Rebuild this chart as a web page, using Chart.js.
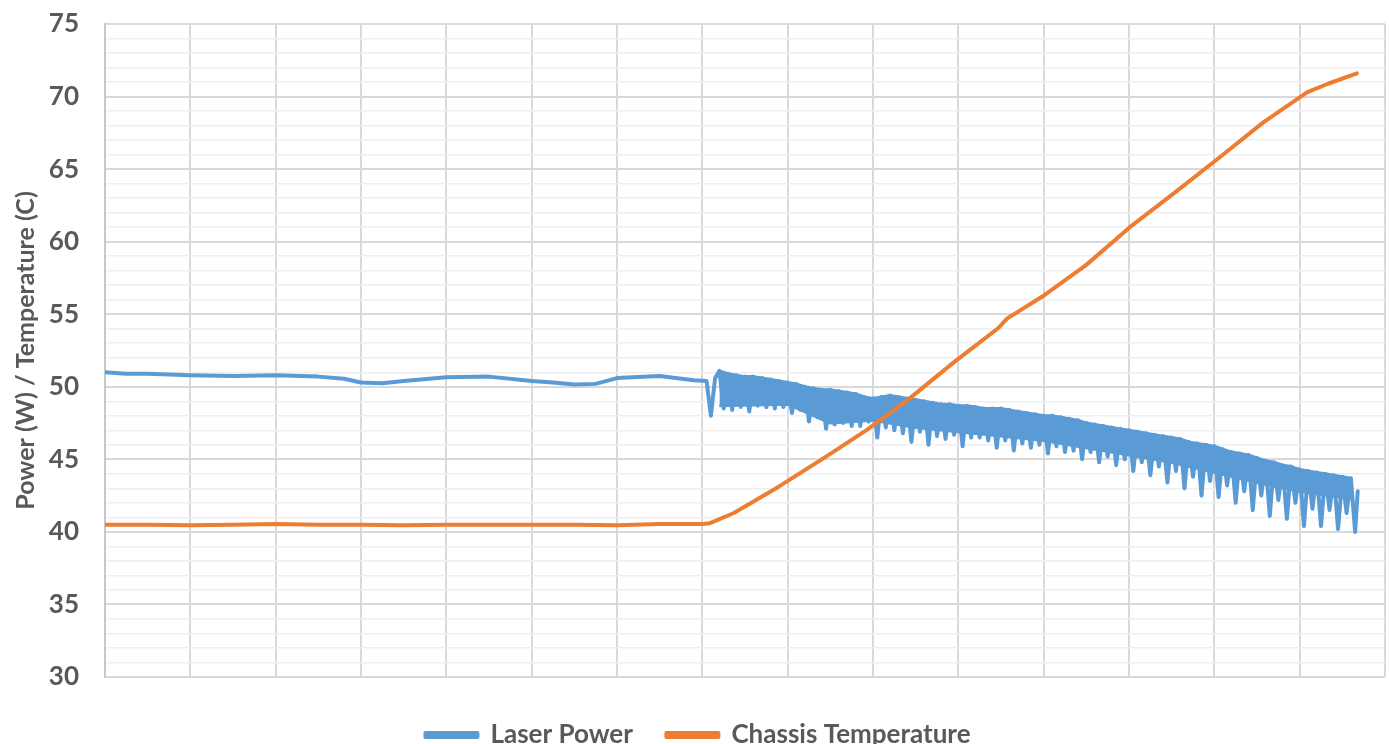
<!DOCTYPE html>
<html>
<head>
<meta charset="utf-8">
<script src="https://cdn.jsdelivr.net/npm/chart.js@4/dist/chart.umd.min.js"></script>
<style>
  html, body { margin: 0; padding: 0; background: #fff; overflow: hidden; }
  #wrap { position: relative; width: 1389px; height: 758px; }
</style>
</head>
<body>
<div id="wrap"><canvas id="myChart"></canvas></div>
<script>
// Laser power before the oscillation starts
const steadyX = [0, 0.25, 0.5, 0.75, 1.0, 1.5, 2.0, 2.5, 2.8, 3.0, 3.25, 3.5, 4.0, 4.5, 5.0, 5.25, 5.5, 5.75, 6.0, 6.5, 6.9, 7.05, 7.1, 7.15];
const steadyPower = [51.0, 50.9, 50.9, 50.85, 50.8, 50.75, 50.8, 50.7, 50.55, 50.3, 50.25, 50.4, 50.65, 50.7, 50.4, 50.3, 50.15, 50.2, 50.6, 50.75, 50.45, 50.4, 48.0, 50.6];

// oscillating part: peaks
const bandX = [7.2, 7.3, 7.4, 7.5, 7.6, 7.7, 7.8, 7.9,
  8.0, 8.1, 8.2, 8.3, 8.4, 8.5, 8.6, 8.7, 8.8, 8.9,
  9.0, 9.1, 9.2, 9.3, 9.4, 9.5, 9.6, 9.7, 9.8, 9.9,
  10.0, 10.1, 10.2, 10.3, 10.4, 10.5, 10.6, 10.7, 10.8, 10.9,
  11.0, 11.1, 11.2, 11.3, 11.4, 11.5, 11.6, 11.7, 11.8, 11.9,
  12.0, 12.1, 12.2, 12.3, 12.4, 12.5, 12.6, 12.7, 12.8, 12.9,
  13.0, 13.1, 13.2, 13.3, 13.4, 13.5, 13.6, 13.7, 13.8, 13.9,
  14.0, 14.1, 14.2, 14.3, 14.4, 14.5, 14.6];
const powerHigh = [51.1, 50.9, 50.8, 50.7, 50.7, 50.6, 50.5, 50.4,
  50.3, 50.2, 50.0, 49.9, 49.8, 49.8, 49.7, 49.6, 49.5, 49.3,
  49.2, 49.3, 49.4, 49.3, 49.2, 49.1, 49.0, 48.9, 48.8, 48.8,
  48.7, 48.7, 48.6, 48.5, 48.5, 48.5, 48.4, 48.3, 48.2, 48.1,
  48.0, 48.0, 47.9, 47.8, 47.7, 47.5, 47.4, 47.3, 47.2, 47.1,
  47.0, 46.9, 46.8, 46.7, 46.6, 46.5, 46.4, 46.2, 46.1, 46.0,
  45.9, 45.7, 45.5, 45.4, 45.3, 45.1, 44.9, 44.8, 44.6, 44.5,
  44.3, 44.2, 44.1, 44.0, 43.9, 43.8, 43.7];

// oscillating part: dips between the peaks
const dipX = [7.25, 7.35, 7.45, 7.55, 7.65, 7.75, 7.85, 7.95,
  8.05, 8.15, 8.25, 8.35, 8.45, 8.55, 8.65, 8.75, 8.85, 8.95,
  9.05, 9.15, 9.25, 9.35, 9.45, 9.55, 9.65, 9.75, 9.85, 9.95,
  10.05, 10.15, 10.25, 10.35, 10.45, 10.55, 10.65, 10.75, 10.85, 10.95,
  11.05, 11.15, 11.25, 11.35, 11.45, 11.55, 11.65, 11.75, 11.85, 11.95,
  12.05, 12.15, 12.25, 12.35, 12.45, 12.55, 12.65, 12.75, 12.85, 12.95,
  13.05, 13.15, 13.25, 13.35, 13.45, 13.55, 13.65, 13.75, 13.85, 13.95,
  14.05, 14.15, 14.25, 14.35, 14.45, 14.55, 14.65];
const powerLow = [48.5, 48.4, 48.6, 48.3, 48.7, 48.6, 48.5, 48.6,
  48.2, 48.4, 47.6, 47.9, 47.1, 47.4, 47.5, 47.3, 47.3, 47.6,
  46.5, 47.2, 47.0, 46.8, 46.2, 46.9, 46.0, 46.6, 46.4, 46.7,
  45.9, 46.5, 46.5, 46.3, 45.8, 46.3, 45.6, 46.1, 45.8, 46.0,
  45.4, 45.9, 45.5, 45.6, 45.0, 45.5, 44.8, 45.2, 44.6, 45.0,
  44.2, 44.8, 43.9, 44.5, 43.4, 44.2, 43.0, 43.8, 42.5, 43.5,
  42.4, 43.2, 42.0, 42.8, 41.5, 42.5, 41.1, 42.2, 40.9, 42.0,
  40.4, 41.6, 40.4, 41.5, 40.2, 41.3, 40.0];
const endX = [14.68];
const endPower = [42.8];

// solid lower edge of the oscillation band
const bodyX = [7.2, 8.0, 8.5, 9.0, 9.5, 10.0, 10.5, 11.0, 11.5, 12.0, 12.5, 13.0, 13.5, 14.0, 14.6];
const bodyLow = [48.7, 48.8, 47.5, 47.7, 47.2, 46.9, 46.6, 46.3, 45.8, 45.3, 44.8, 44.1, 43.4, 42.8, 42.3];

const chassisX = [0, 0.5, 1, 1.5, 2, 2.5, 3, 3.5, 4, 4.5, 5, 5.5, 6, 6.5, 7.0, 7.09, 7.37, 7.89, 8.40, 8.92, 9.43, 9.95, 10.47, 10.57, 10.98, 11.50, 12.01, 12.54, 13.06, 13.57, 14.09, 14.34, 14.67];
const chassisTemp = [40.5, 40.5, 40.45, 40.5, 40.55, 40.5, 40.5, 40.45, 40.5, 40.5, 40.5, 40.5, 40.45, 40.55, 40.55, 40.6, 41.3, 43.1, 45.0, 47.0, 49.2, 51.7, 54.05, 54.7, 56.2, 58.4, 61.0, 63.4, 65.8, 68.2, 70.3, 70.9, 71.6];

const yMin = 30, yMax = 75;
const blue = "#5b9bd5";
const orange = "#ed7d31";
const textGray = "#595959";

const pts = (xs, ys) => xs.map((x, i) => ({ x: x, y: ys[i] }));

// laser power: steady run, then alternate peak / dip
const laserPoints = pts(steadyX, steadyPower);
bandX.forEach((x, i) => {
  laserPoints.push({ x: x, y: powerHigh[i] });
  laserPoints.push({ x: dipX[i], y: powerLow[i] });
});
laserPoints.push(...pts(endX, endPower));

const ctx = document.getElementById("myChart");
new Chart(ctx, {
  type: "line",
  data: {
    datasets: [
      {
        label: "Laser Power",
        data: laserPoints,
        borderColor: blue,
        backgroundColor: blue,
        borderWidth: 4,
        borderJoinStyle: "round",
        borderCapStyle: "round",
        pointRadius: 0,
        tension: 0,
        fill: false,
        order: 1,
      },
      {
        label: "band top",
        data: pts(bandX, powerHigh),
        borderColor: blue,
        backgroundColor: blue,
        borderWidth: 3,
        borderJoinStyle: "round",
        pointRadius: 0,
        tension: 0,
        fill: "+1",
        order: 2,
      },
      {
        label: "band bottom",
        data: pts(bodyX, bodyLow),
        borderColor: blue,
        backgroundColor: blue,
        borderWidth: 3,
        borderJoinStyle: "round",
        pointRadius: 0,
        tension: 0,
        fill: false,
        order: 2,
      },
      {
        label: "Chassis Temperature",
        data: pts(chassisX, chassisTemp),
        borderColor: orange,
        backgroundColor: orange,
        borderWidth: 4,
        borderJoinStyle: "round",
        borderCapStyle: "round",
        pointRadius: 0,
        tension: 0,
        fill: false,
        order: 0,
      },
    ],
  },
  options: {
    responsive: true,
    maintainAspectRatio: false,
    animation: false,
    layout: { padding: { left: 11, right: 4, top: 12, bottom: 0 } },
    plugins: {
      tooltip: { enabled: false },
      legend: {
        position: "bottom",
        labels: {
          filter: (item) => item.datasetIndex === 0 || item.datasetIndex === 3,
          sort: (a, b) => a.datasetIndex - b.datasetIndex,
          boxWidth: 52,
          boxHeight: 4,
          padding: 14,
          color: textGray,
          font: { family: "Lato", size: 26, weight: "bold" },
          generateLabels: (chart) =>
            Chart.defaults.plugins.legend.labels.generateLabels(chart).map((l) => {
              // extra room after the first entry, as in the original legend
              if (l.datasetIndex === 0) l.text = "Laser Power\u2003";
              return l;
            }),
        },
      },
    },
    scales: {
      x: {
        type: "linear",
        min: 0,
        max: 15,
        ticks: { display: false, stepSize: 1 },
        grid: { color: "#d9d9d9", lineWidth: 2, drawTicks: false },
        border: { display: false },
        afterFit: (scale) => { scale.height = 31; },
      },
      y: {
        min: yMin,
        max: yMax,
        ticks: {
          stepSize: 1,
          autoSkip: false,
          padding: 26,
          color: textGray,
          font: { family: "Lato", size: 26, weight: "bold" },
          callback: (v) => (v % 5 === 0 ? v : ""),
        },
        grid: {
          drawTicks: false,
          color: (c) => (c.tick && c.tick.value % 5 === 0 ? "#d9d9d9" : "#efefef"),
          lineWidth: (c) => (c.tick && c.tick.value % 5 === 0 ? 2 : 1.5),
        },
        border: { color: "#c8c8c8", width: 2 },
        title: {
          display: true,
          text: "Power (W) / Temperature (C)",
          color: textGray,
          font: { family: "Lato", size: 25, weight: "bold" },
          padding: { top: 0, bottom: 0 },
        },
        afterFit: (scale) => {
          scale.width = 94;
          scale.paddingTop = 24;
        },
      },
    },
  },
});
</script>
</body>
</html>
